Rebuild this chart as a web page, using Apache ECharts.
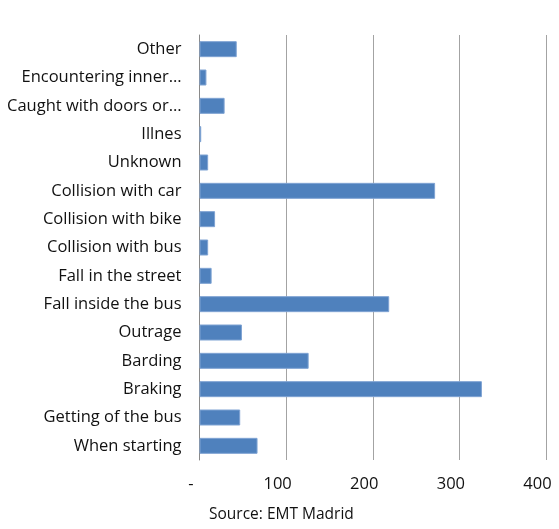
<!DOCTYPE html>
<html>
<head>
<meta charset="utf-8">
<script src="https://cdn.jsdelivr.net/npm/echarts@6/dist/echarts.min.js"></script>
<style>
  html, body { margin: 0; padding: 0; background: #fff; }
  #chart { width: 559px; height: 529px; }
</style>
</head>
<body>
<div id="chart"></div>
<script>
// Accident causes on EMT Madrid buses (bottom to top)
const categories = [
  'When starting', 'Getting of the bus', 'Braking', 'Barding', 'Outrage',
  'Fall inside the bus', 'Fall in the street', 'Collision with bus',
  'Collision with bike', 'Collision with car', 'Unknown', 'Illnes',
  'Caught with doors or\u2026', 'Encountering inner\u2026', 'Other'
];
const counts = [67, 47, 326, 126, 49, 219, 14, 10, 18, 272, 10, 2, 29, 8, 43];
const xTicks = [0, 100, 200, 300, 400];
const sourceNote = 'Source: EMT Madrid';

const font = '"Open Sans", "Noto Sans", sans-serif';
const chart = echarts.init(document.getElementById('chart'), null, { renderer: 'canvas' });

chart.setOption({
  animation: false,
  grid: { left: 199.5, right: 13, top: 35, bottom: 69, containLabel: false },
  xAxis: {
    type: 'value',
    min: xTicks[0],
    max: xTicks[xTicks.length - 1],
    interval: xTicks[1] - xTicks[0],
    axisLine: { show: false },
    axisTick: { show: false },
    splitLine: { show: true, lineStyle: { color: '#a3a3a3', width: 1 } },
    axisLabel: {
      margin: 16,
      fontFamily: font,
      fontSize: 16.5,
      color: '#111',
      padding: [0, 17, 0, 0],
      formatter: v => (v === 0 ? '-' : String(v))
    }
  },
  yAxis: {
    type: 'category',
    data: categories,
    axisLine: { show: true, lineStyle: { color: '#8a8a8a', width: 1 } },
    axisTick: { show: false },
    splitLine: { show: false },
    axisLabel: {
      margin: 18,
      fontFamily: font,
      fontSize: 16.5,
      color: '#111'
    }
  },
  series: [{
    type: 'bar',
    data: counts,
    barWidth: 16,
    itemStyle: { color: '#4f81bd', borderColor: '#7fa3d3', borderWidth: 1 }
  }],
  graphic: [{
    type: 'text',
    left: 209,
    top: 507,
    style: { text: sourceNote, font: '15.5px ' + font, fill: '#111' }
  }]
});
</script>
</body>
</html>
